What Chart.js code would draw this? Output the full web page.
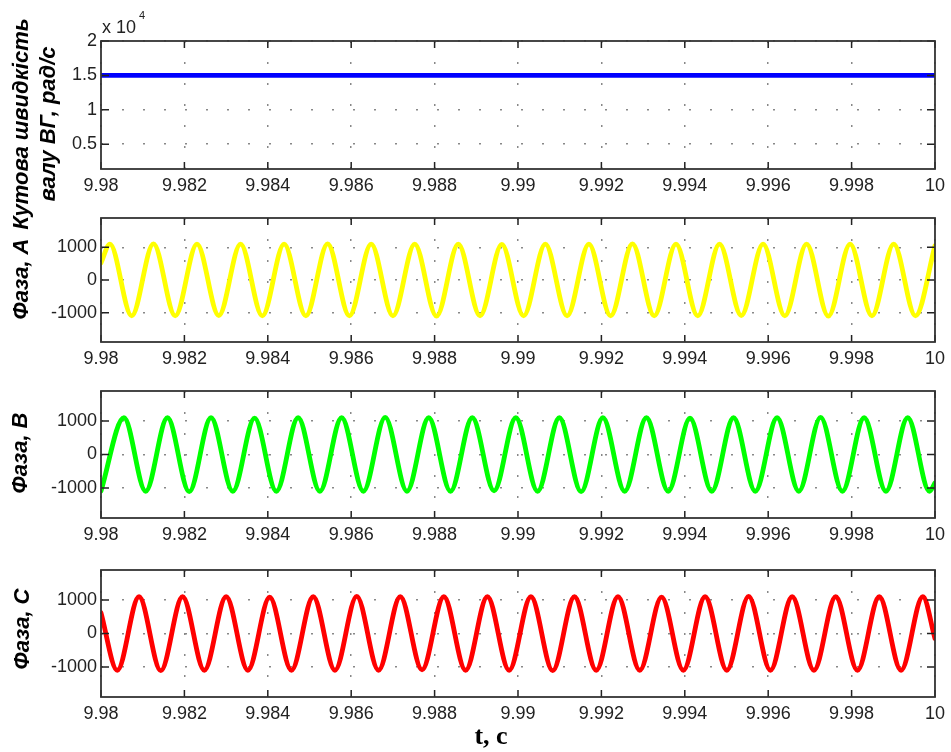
<!DOCTYPE html>
<html>
<head>
<meta charset="utf-8">
<script src="https://cdn.jsdelivr.net/npm/chart.js@4.4.1/dist/chart.umd.min.js"></script>
<style>
  body { margin: 0; background: #fff; }
  #wrap { position: relative; width: 951px; height: 752px; overflow: hidden; }
  #wrap canvas { position: absolute; left: 0; }
</style>
</head>
<body>
<div id="wrap">
  <canvas id="speed" width="951" height="232" style="top:0px"></canvas>
  <canvas id="phaseA" width="951" height="170" style="top:200px"></canvas>
  <canvas id="phaseB" width="951" height="175" style="top:370px"></canvas>
  <canvas id="phaseC" width="951" height="207" style="top:545px"></canvas>
</div>
<script>
// axis ticks
const timeTicks = [9.98, 9.982, 9.984, 9.986, 9.988, 9.99, 9.992, 9.994, 9.996, 9.998, 10];
const speedTicks = [5000, 10000, 15000, 20000];
const currentTicks = [-1000, 0, 1000];

// shaft speed, rad/s
const speedTime = [9.98, 9.985, 9.99, 9.995, 10];
const speedValues = [15000, 15000, 15000, 15000, 15000];

// phase currents: start, peaks/troughs as read, end
const timeA = [9.98, 9.980214, 9.980736, 9.981258, 9.98178, 9.982302, 9.982825, 9.983347, 9.983869, 9.984391, 9.984913,
  9.985435, 9.985957, 9.986479, 9.987001, 9.987523, 9.988046, 9.988568, 9.98909, 9.989612, 9.990134,
  9.990656, 9.991178, 9.9917, 9.992222, 9.992744, 9.993267, 9.993789, 9.994311, 9.994833, 9.995355,
  9.995877, 9.996399, 9.996921, 9.997443, 9.997965, 9.998488, 9.99901, 9.999532, 10];
const phaseA = [520,
  1100, -1100, 1110, -1100, 1100, -1090, 1100, -1100, 1100, -1100,
  1110, -1100, 1100, -1100, 1100, -1110, 1100, -1100, 1090, -1100,
  1100, -1100, 1100, -1100, 1110, -1100, 1100, -1100, 1100, -1090,
  1100, -1100, 1100, -1110, 1100, -1100, 1100, -1100,
  1050];

const timeB = [9.98, 9.98055, 9.981072, 9.981594, 9.982116, 9.982638, 9.983161, 9.983683, 9.984205, 9.984727, 9.985249,
  9.985771, 9.986293, 9.986815, 9.987337, 9.987859, 9.988382, 9.988904, 9.989426, 9.989948, 9.99047,
  9.990992, 9.991514, 9.992036, 9.992558, 9.99308, 9.993603, 9.994125, 9.994647, 9.995169, 9.995691,
  9.996213, 9.996735, 9.997257, 9.997779, 9.998301, 9.998824, 9.999346, 9.999868, 10];
const phaseB = [-1090,
  1100, -1100, 1100, -1110, 1100, -1100, 1090, -1100, 1100, -1100,
  1100, -1100, 1110, -1100, 1100, -1100, 1100, -1090, 1100, -1100,
  1100, -1110, 1100, -1100, 1100, -1100, 1090, -1100, 1100, -1100,
  1100, -1100, 1110, -1100, 1100, -1100, 1100, -1100,
  -850];

const timeC = [9.98, 9.98039, 9.980912, 9.981434, 9.981956, 9.982478, 9.983001, 9.983523, 9.984045, 9.984567, 9.985089,
  9.985611, 9.986133, 9.986655, 9.987177, 9.987699, 9.988222, 9.988744, 9.989266, 9.989788, 9.99031,
  9.990832, 9.991354, 9.991876, 9.992398, 9.99292, 9.993443, 9.993965, 9.994487, 9.995009, 9.995531,
  9.996053, 9.996575, 9.997097, 9.997619, 9.998141, 9.998664, 9.999186, 9.999708, 10];
const phaseC = [620,
  -1100, 1100, -1110, 1100, -1100, 1100, -1100, 1090, -1100, 1100,
  -1100, 1110, -1100, 1100, -1090, 1100, -1100, 1100, -1100, 1100,
  -1110, 1100, -1100, 1100, -1100, 1090, -1100, 1100, -1100, 1110,
  -1100, 1100, -1100, 1100, -1100, 1100, -1100, 1100,
  -150];

const FONT = '"Liberation Sans", Arial, sans-serif';
const TITLE_FONT = 'bold italic 22px ' + FONT;

// matlab-like box, inward ticks and free text
const matlabBox = {
  id: 'matlabBox',
  afterDraw(chart, args, opts) {
    const { ctx, chartArea: a, scales } = chart;
    ctx.save();
    ctx.strokeStyle = '#222';
    ctx.lineWidth = 1.5;
    ctx.beginPath();
    scales.x.ticks.forEach(t => {
      const p = scales.x.getPixelForValue(t.value);
      ctx.moveTo(p, a.top); ctx.lineTo(p, a.top + 7);
      ctx.moveTo(p, a.bottom); ctx.lineTo(p, a.bottom - 7);
    });
    scales.y.ticks.forEach(t => {
      const p = scales.y.getPixelForValue(t.value);
      ctx.moveTo(a.left, p); ctx.lineTo(a.left + 8, p);
      ctx.moveTo(a.right, p); ctx.lineTo(a.right - 8, p);
    });
    ctx.stroke();
    ctx.strokeStyle = '#333';
    ctx.lineWidth = 1.8;
    ctx.strokeRect(a.left, a.top, a.right - a.left, a.bottom - a.top);

    (opts.texts || []).forEach(t => {
      ctx.save();
      ctx.font = t.font;
      ctx.fillStyle = t.color || '#000';
      ctx.textAlign = t.align || 'center';
      ctx.textBaseline = t.baseline || 'middle';
      ctx.translate(t.x, t.y);
      if (t.rotate) ctx.rotate(-Math.PI / 2);
      ctx.fillText(t.text, 0, 0);
      ctx.restore();
    });
    ctx.restore();
  }
};

function series(times, values, color) {
  return {
    data: times.map((t, i) => ({ x: t, y: values[i] })),
    borderColor: color,
    borderWidth: 4.8,
    cubicInterpolationMode: 'monotone',
    borderCapStyle: 'round',
    borderJoinStyle: 'round',
    fill: false,
    pointRadius: 0
  };
}

function panel(id, dataset, yMin, yMax, yTicks, yLabel, padTop, xHeight, texts) {
  return new Chart(document.getElementById(id).getContext('2d'), {
    type: 'line',
    data: { datasets: [dataset] },
    options: {
      responsive: false,
      animation: false,
      devicePixelRatio: 1,
      layout: { padding: { top: padTop, right: 11, left: 0, bottom: 0 } },
      plugins: {
        legend: { display: false },
        tooltip: { enabled: false },
        matlabBox: { texts: texts }
      },
      scales: {
        x: {
          type: 'linear',
          min: 9.98,
          max: 10,
          afterBuildTicks: s => { s.ticks = timeTicks.map(v => ({ value: v })); },
          afterFit: s => { s.height = xHeight; },
          ticks: {
            callback: v => String(v),
            autoSkip: false,
            maxRotation: 0,
            padding: 6,
            color: '#222',
            font: { family: FONT, size: 18 }
          },
          grid: { color: '#888', lineWidth: 1.5, drawTicks: false },
          border: { display: false, dash: [2, 19] }
        },
        y: {
          min: yMin,
          max: yMax,
          afterBuildTicks: s => { s.ticks = yTicks.map(v => ({ value: v })); },
          afterFit: s => { s.width = 101; },
          ticks: {
            callback: yLabel,
            padding: 4,
            color: '#222',
            font: { family: FONT, size: 18 }
          },
          grid: { color: '#888', lineWidth: 1.5, drawTicks: false },
          border: { display: false, dash: [2, 19] }
        }
      }
    },
    plugins: [matlabBox]
  });
}

panel('speed', series(speedTime, speedValues, '#0000ff'), 1400, 20000, speedTicks, v => String(v / 10000), 41, 63, [
  { text: 'Кутова швидкість', x: 22, y: 124, rotate: true, font: TITLE_FONT },
  { text: 'валу ВГ, рад/с', x: 49, y: 124, rotate: true, font: TITLE_FONT },
  { text: 'x 10', x: 102, y: 33, align: 'left', baseline: 'alphabetic', font: '18px ' + FONT, color: '#222' },
  { text: '4', x: 139, y: 19, align: 'left', baseline: 'alphabetic', font: '11px ' + FONT, color: '#222' }
]);

panel('phaseA', series(timeA, phaseA, '#ffff00'), -1900, 1900, currentTicks, v => String(v), 18, 28, [
  { text: 'Фаза, A', x: 22, y: 79, rotate: true, font: TITLE_FONT }
]);

panel('phaseB', series(timeB, phaseB, '#00ff00'), -1900, 1900, currentTicks, v => String(v), 21, 27, [
  { text: 'Фаза, B', x: 21, y: 83, rotate: true, font: TITLE_FONT }
]);

panel('phaseC', series(timeC, phaseC, '#ff0000'), -1900, 1900, currentTicks, v => String(v), 25, 55, [
  { text: 'Фаза, C', x: 23, y: 84, rotate: true, font: TITLE_FONT },
  { text: 't, c', x: 491, y: 192, font: 'bold 26px "Liberation Serif", "Times New Roman", serif' }
]);
</script>
</body>
</html>
